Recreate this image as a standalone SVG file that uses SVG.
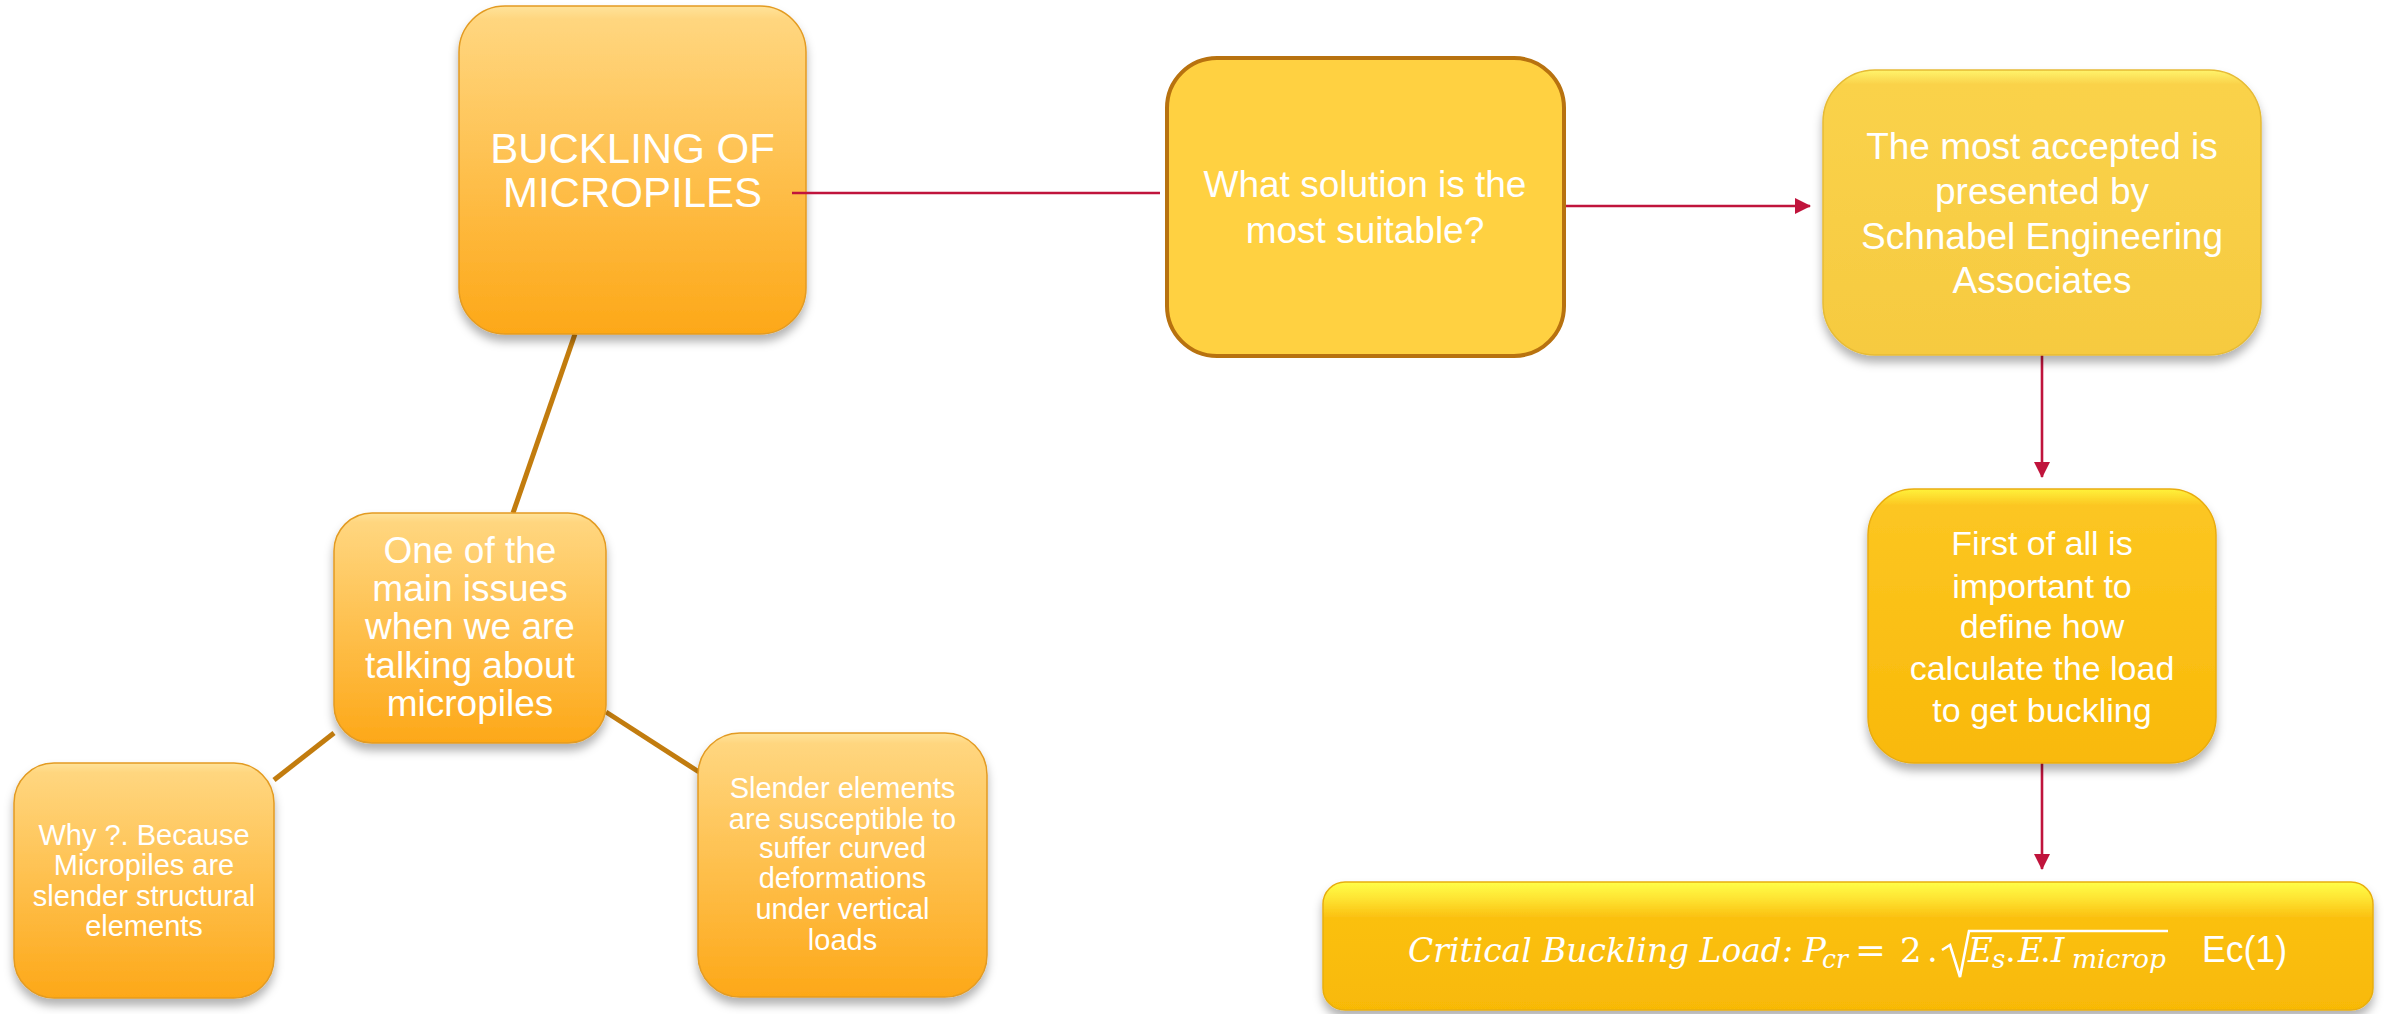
<svg xmlns="http://www.w3.org/2000/svg" width="2387" height="1014" viewBox="0 0 2387 1014">
<defs>
<style>
.t{font-family:"Liberation Sans",Arial,sans-serif;fill:#fff;text-anchor:middle}
.m{font-family:"DejaVu Serif","Liberation Serif",serif;font-style:italic;fill:#fff}
.n{font-family:"DejaVu Serif","Liberation Serif",serif;fill:#fff}
.brown{stroke:#C27C0E;stroke-width:5;fill:none}
.red{stroke:#C0143C;stroke-width:2.6;fill:none}
</style>
<linearGradient id="gOrange" x1="0" y1="0" x2="0" y2="1">
<stop offset="0" stop-color="#FFE39A"/>
<stop offset="0.04" stop-color="#FFD67F"/>
<stop offset="1" stop-color="#FDA818"/>
</linearGradient>
<linearGradient id="gY3" x1="0" y1="0" x2="0" y2="1">
<stop offset="0" stop-color="#FFF46C"/>
<stop offset="0.05" stop-color="#FAD24A"/>
<stop offset="1" stop-color="#F6CA40"/>
</linearGradient>
<linearGradient id="gY4" x1="0" y1="0" x2="0" y2="1">
<stop offset="0" stop-color="#FFF23A"/>
<stop offset="0.06" stop-color="#FCC622"/>
<stop offset="1" stop-color="#F9B908"/>
</linearGradient>
<linearGradient id="gY5" x1="0" y1="0" x2="0" y2="1">
<stop offset="0" stop-color="#FFFF48"/>
<stop offset="0.12" stop-color="#FEE634"/>
<stop offset="0.28" stop-color="#FBC010"/>
<stop offset="1" stop-color="#F8B906"/>
</linearGradient>
<filter id="sh" x="-10%" y="-10%" width="120%" height="130%">
<feDropShadow dx="0" dy="7" stdDeviation="5" flood-color="#000" flood-opacity="0.3"/>
</filter>
<marker id="arr" viewBox="0 0 16 16" markerWidth="16" markerHeight="16" refX="15" refY="8" orient="auto" markerUnits="userSpaceOnUse">
<path d="M0,0 L16,8 L0,16 z" fill="#C0143C"/>
</marker>
</defs>
<rect width="2387" height="1014" fill="#fff"/>

<g id="connectors">
<line class="brown" x1="575" y1="334" x2="513" y2="513"/>
<line class="brown" x1="334" y1="733" x2="274" y2="780"/>
<line class="brown" x1="606" y1="712" x2="699" y2="772"/>
<line class="red" x1="1564" y1="206" x2="1810" y2="206" marker-end="url(#arr)"/>
<line class="red" x1="2042" y1="355" x2="2042" y2="477" marker-end="url(#arr)"/>
<line class="red" x1="2042" y1="763" x2="2042" y2="869" marker-end="url(#arr)"/>
</g>

<g id="node-buckling">
<rect x="459" y="6" width="347" height="328" rx="46" fill="url(#gOrange)" stroke="#E39B22" stroke-width="1.5" filter="url(#sh)"/>
<text class="t" font-size="42" x="632.5" y="163">BUCKLING OF<tspan x="632.5" y="207">MICROPILES</tspan></text>
</g>
<line id="link-main" class="red" x1="792" y1="193" x2="1160" y2="193"/>

<g id="node-question">
<rect x="1167" y="58" width="397" height="298" rx="50" fill="#FFD141" stroke="#B8720F" stroke-width="4"/>
<text class="t" font-size="37" x="1365" y="197">What solution is the<tspan x="1365" y="243">most suitable?</tspan></text>
</g>

<g id="node-accepted">
<rect x="1823" y="70" width="438" height="285" rx="52" fill="url(#gY3)" stroke="#E6BB35" stroke-width="1.5" filter="url(#sh)"/>
<text class="t" font-size="37" x="2042" y="159">The most accepted is<tspan x="2042" y="204">presented by</tspan><tspan x="2042" y="249">Schnabel Engineering</tspan><tspan x="2042" y="293">Associates</tspan></text>
</g>

<g id="node-first">
<rect x="1868" y="489" width="348" height="274" rx="46" fill="url(#gY4)" stroke="#E9AC10" stroke-width="1.5" filter="url(#sh)"/>
<text class="t" font-size="34" x="2042" y="555">First of all is<tspan x="2042" y="598">important to</tspan><tspan x="2042" y="638">define how</tspan><tspan x="2042" y="680">calculate the load</tspan><tspan x="2042" y="722">to get buckling</tspan></text>
</g>

<g id="node-formula">
<rect x="1323" y="882" width="1050" height="128" rx="22" fill="url(#gY5)" stroke="#E8AE10" stroke-width="1.5" filter="url(#sh)"/>
<text class="m" font-size="34" x="1408" y="962" textLength="385" lengthAdjust="spacingAndGlyphs">Critical Buckling Load:</text>
<text class="m" font-size="34" x="1803" y="962">P</text>
<text class="m" font-size="26" x="1822" y="968" textLength="26" lengthAdjust="spacingAndGlyphs">cr</text>
<text class="n" font-size="34" x="1855" y="962" textLength="31" lengthAdjust="spacingAndGlyphs">=</text>
<text class="n" font-size="34" x="1900" y="962">2</text>
<text class="n" font-size="34" x="1927" y="962">.</text>
<polyline points="1942,950 1950,945 1960,977 1969,931 2168,931" fill="none" stroke="#fff" stroke-width="2.6"/>
<text class="m" font-size="34" x="1968" y="962">E</text>
<text class="m" font-size="26" x="1992" y="968">s</text>
<text class="n" font-size="34" x="2005" y="962">.</text>
<text class="m" font-size="34" x="2018" y="962">E</text>
<text class="n" font-size="34" x="2040" y="962">.</text>
<text class="m" font-size="34" x="2051" y="962">I</text>
<text class="m" font-size="26" x="2072" y="968" textLength="94" lengthAdjust="spacingAndGlyphs">microp</text>
<text font-family="Liberation Sans,Arial,sans-serif" font-size="36" fill="#fff" x="2202" y="962" textLength="85" lengthAdjust="spacingAndGlyphs">Ec(1)</text>
</g>

<g id="node-issues">
<rect x="334" y="513" width="272" height="230" rx="38" fill="url(#gOrange)" stroke="#E39B22" stroke-width="1.5" filter="url(#sh)"/>
<text class="t" font-size="37" x="470" y="563">One of the<tspan x="470" y="601">main issues</tspan><tspan x="470" y="639">when we are</tspan><tspan x="470" y="678">talking about</tspan><tspan x="470" y="716">micropiles</tspan></text>
</g>

<g id="node-why">
<rect x="14" y="763" width="260" height="235" rx="40" fill="url(#gOrange)" stroke="#E39B22" stroke-width="1.5" filter="url(#sh)"/>
<text class="t" font-size="29" x="144" y="845">Why ?. Because<tspan x="144" y="875">Micropiles are</tspan><tspan x="144" y="906">slender structural</tspan><tspan x="144" y="936">elements</tspan></text>
</g>

<g id="node-slender">
<rect x="698" y="733" width="289" height="264" rx="42" fill="url(#gOrange)" stroke="#E39B22" stroke-width="1.5" filter="url(#sh)"/>
<text class="t" font-size="29" x="842.5" y="798">Slender elements<tspan x="842.5" y="829">are susceptible to</tspan><tspan x="842.5" y="858">suffer curved</tspan><tspan x="842.5" y="888">deformations</tspan><tspan x="842.5" y="919">under vertical</tspan><tspan x="842.5" y="950">loads</tspan></text>
</g>
</svg>
